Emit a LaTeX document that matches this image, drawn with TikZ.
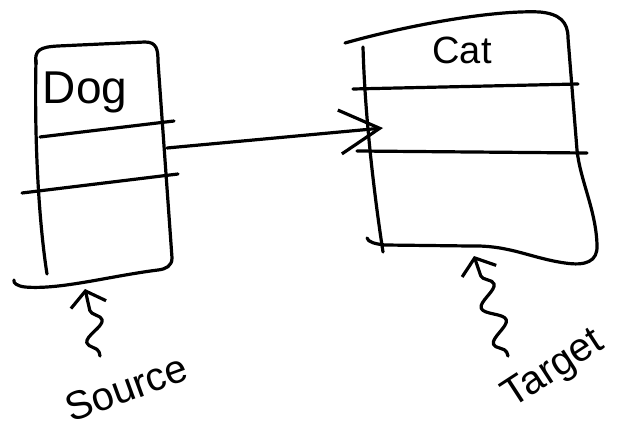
\documentclass[tikz,border=0pt]{standalone}
\usepackage{fontspec}
\setmainfont{Liberation Sans}
\usetikzlibrary{arrows.meta, decorations.pathmorphing}
\tikzset{>={Straight Barb[length=20pt,width=22pt]}}
\tikzset{
  pen/.style={line width=1.6pt, line cap=round, line join=round},
  squiggle/.style={pen, decorate, decoration={snake, amplitude=5pt, segment length=19pt, pre length=2pt, post length=5pt}},
  hand/.style={font=\fontsize{20}{24}\selectfont, inner sep=0pt},
  smallbarb/.style={-{Straight Barb[length=7pt,width=18pt]}}
}

\begin{document}
\begin{tikzpicture}[x=0.5pt, y=-0.5pt]
\useasboundingbox (0,0) rectangle (625,427);
% Dog box
\draw[pen] (36,64) .. controls (34,50) and (40,47) .. (58,46) -- (145,42) .. controls (157,42) and (158,50) .. (158,62) -- (172,258) .. controls (172,266) and (166,269) .. (158,270) .. controls (110,276) and (60,290) .. (25,287) .. controls (17,286) and (13,283) .. (14,280);
\draw[pen] (36,60) .. controls (34,150) and (40,230) .. (47,274);
\draw[pen] (40,137) -- (174,121);
\draw[pen] (22,193) -- (178,174);
\node[hand, font=\fontsize{23}{26}\selectfont] (dog) at (85,92) {Dog};
% Cat box
\draw[pen] (345,43) .. controls (420,22) and (500,10) .. (540,12) .. controls (560,14) and (568,22) .. (568,38) -- (577,150) .. controls (580,180) and (596,210) .. (597,245) .. controls (598,262) and (585,266) .. (565,263) .. controls (530,258) and (510,245) .. (470,246) -- (385,245) .. controls (375,244) and (368,242) .. (367,238);
\draw[pen] (363,47) .. controls (365,120) and (375,200) .. (383,252);
\draw[pen] (353,89) -- (578,84);
\draw[pen] (357,151) -- (587,153);
\node[hand, font=\fontsize{19}{22}\selectfont] (cat) at (462,50) {Cat};
% association
\coordinate (dog-out) at (167,148);
\coordinate (cat-in) at (383,128);
\draw[pen, ->] (dog-out) -- (cat-in);
% labels
\node[hand, rotate=20] (source) at (126,388) {Source};
\node[hand, rotate=33] (target) at (554,370) {Target};
\coordinate (source-tail) at (100,356);
\coordinate (dog-foot) at (85,289);
\coordinate (target-tail) at (508,356);
\coordinate (cat-foot) at (474,256);
\draw[squiggle, smallbarb] (source-tail) -- (dog-foot);
\draw[squiggle, smallbarb] (target-tail) -- (cat-foot);
\end{tikzpicture}
\end{document}
